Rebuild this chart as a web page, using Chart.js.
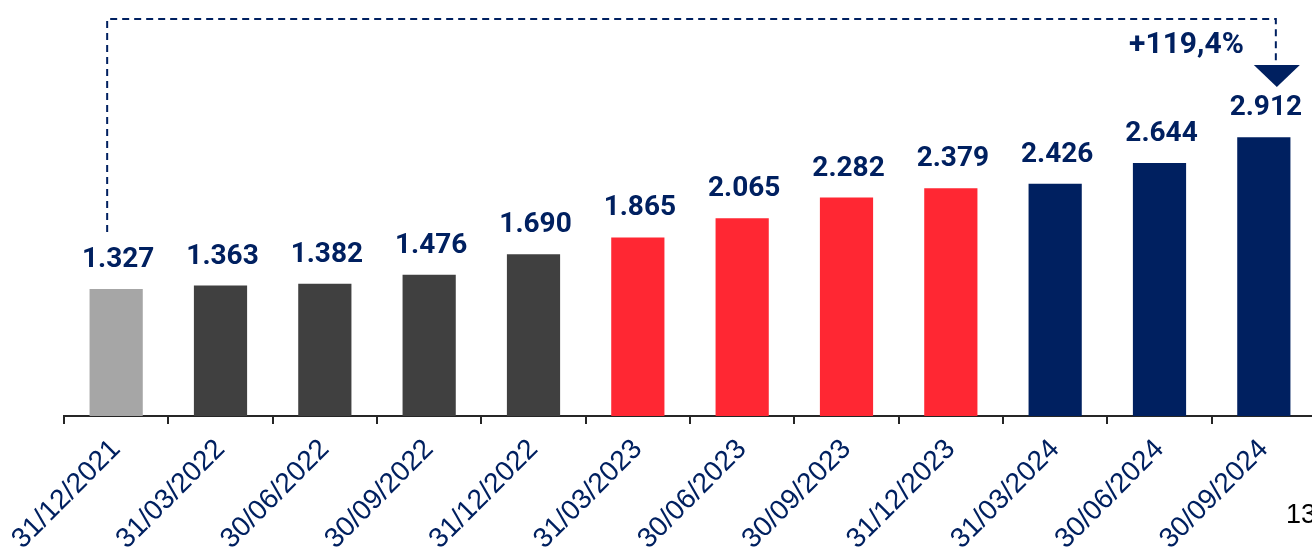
<!DOCTYPE html>
<html>
<head>
<meta charset="utf-8">
<script src="https://cdn.jsdelivr.net/npm/chart.js@4.4.1/dist/chart.umd.min.js"></script>
<style>
  html, body { margin: 0; padding: 0; background: #fff; overflow: hidden; }
  #wrap { width: 1330px; height: 549px; }
</style>
</head>
<body>
<div id="wrap"><canvas id="chart" width="1330" height="549"></canvas></div>
<script>
const labels = ['31/12/2021', '31/03/2022', '30/06/2022', '30/09/2022', '31/12/2022', '31/03/2023',
                '30/06/2023', '30/09/2023', '31/12/2023', '31/03/2024', '30/06/2024', '30/09/2024']
const values = [1327, 1363, 1382, 1476, 1690, 1865, 2065, 2282, 2379, 2426, 2644, 2912]
const barColors = ['#A6A6A6', '#404040', '#404040', '#404040', '#404040', '#FF2733',
                   '#FF2733', '#FF2733', '#FF2733', '#002060', '#002060', '#002060']
const pageNumber = '13'

const navy = '#002060'

// 1327 -> "1.327"
const fmt = function (v) {
    return String(v).replace(/\B(?=(\d{3})+(?!\d))/g, '.')
}

const growth = (values[values.length - 1] / values[0] - 1) * 100
const growthText = '+' + growth.toFixed(1).replace('.', ',') + '%'

const overlay = {
    id: 'overlay',
    afterDatasetsDraw(chart) {
        const ctx = chart.ctx
        const bars = chart.getDatasetMeta(0).data
        ctx.save()
        // value labels
        ctx.fillStyle = navy
        ctx.font = 'bold 28px Roboto'
        ctx.textAlign = 'center'
        ctx.textBaseline = 'alphabetic'
        bars.forEach(function (b, i) {
            ctx.fillText(fmt(values[i]), b.x + 2, b.y - 22)
        })

        // dashed bracket from first to last bar
        const first = bars[0]
        const last = bars[bars.length - 1]
        const topY = chart.chartArea.top + 5
        const rx = last.x + 12
        ctx.strokeStyle = navy
        ctx.lineWidth = 2
        ctx.setLineDash([7, 5])
        ctx.beginPath()
        ctx.moveTo(first.x - 9, first.y - 57)
        ctx.lineTo(first.x - 9, topY)
        ctx.lineTo(rx, topY)
        ctx.lineTo(rx, topY + 46)
        ctx.stroke()
        ctx.setLineDash([])

        // arrow head
        ctx.beginPath()
        ctx.moveTo(rx - 22, topY + 46)
        ctx.lineTo(rx + 24, topY + 46)
        ctx.lineTo(rx + 1, topY + 68)
        ctx.closePath()
        ctx.fill()

        ctx.font = 'bold 30px Roboto'
        ctx.textAlign = 'right'
        ctx.fillText(growthText, last.x - 20, topY + 34)

        // page number
        ctx.fillStyle = '#000'
        ctx.font = '27px "Liberation Sans"'
        ctx.textAlign = 'left'
        ctx.fillText(pageNumber, 1286, 523)
        ctx.restore()
    }
}

new Chart(document.getElementById('chart'), {
    type: 'bar',
    data: {
        labels: labels,
        datasets: [{
            data: values,
            backgroundColor: barColors,
            categoryPercentage: 1,
            barPercentage: 0.51
        }]
    },
    options: {
        responsive: false,
        animation: false,
        layout: { padding: { left: 64, right: 14, top: 14, bottom: 0 } },
        plugins: { legend: { display: false }, tooltip: { enabled: false } },
        scales: {
            x: {
                grid: { offset: true, drawOnChartArea: false, drawTicks: true, tickLength: 8, color: '#262626', lineWidth: 2 },
                border: { color: '#262626', width: 2 },
                ticks: {
                    color: navy,
                    font: { family: 'Liberation Sans', size: 28 },
                    minRotation: 45,
                    maxRotation: 45,
                    autoSkip: false,
                    padding: 9
                },
                afterFit(scale) { scale.height = 133 }
            },
            y: { display: false, min: 0, max: 4200 }
        }
    },
    plugins: [overlay]
})
</script>
</body>
</html>
